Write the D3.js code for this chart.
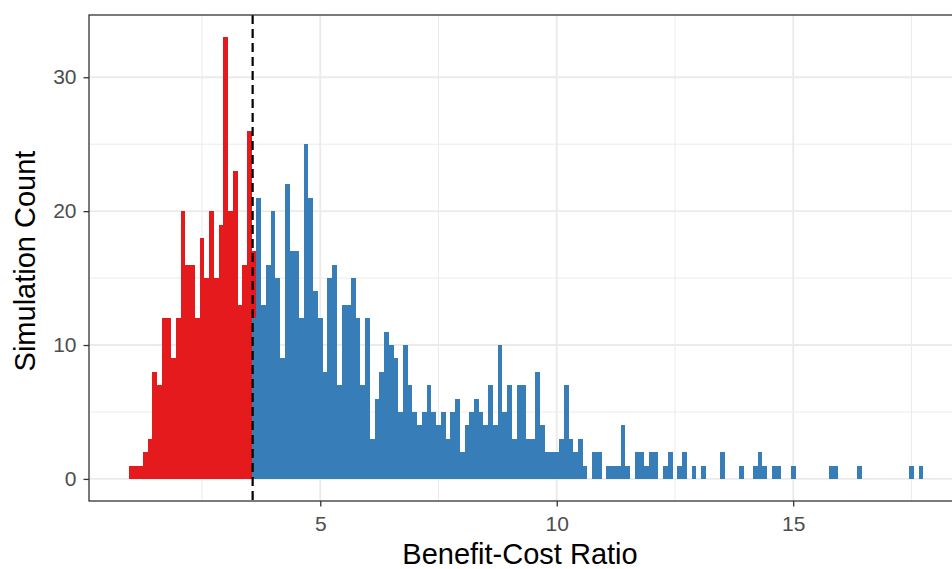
<!DOCTYPE html>
<html lang="en">
<head>
<meta charset="UTF-8">
<title>Benefit-Cost Ratio</title>
<style>
  body { margin: 0; background: #fff; }
  svg { display: block; font-family: "Liberation Sans", Arial, sans-serif; }
</style>
</head>
<body>
<div id="chart"></div>
<script src="https://cdn.jsdelivr.net/npm/d3@7"></script>
<script>
// histogram bins are 0.1 wide; each array starts at the centre of its first bin
const binWidth = 0.1;

const redStart = 1.0;
const redCounts = [
  1, 1, 1, 2, 3, 8, 7, 12, 12, 9,        // 1.0 - 1.9
  12, 20, 16, 16, 12, 18, 15, 20, 15, 19, // 2.0 - 2.9
  33, 20, 23, 13, 16, 26, 5               // 3.0 - 3.6
];

const blueStart = 3.6;
const blueCounts = [
  12, 21, 13, 16,                         // 3.6 - 3.9
  20, 15, 9, 22, 17, 17, 12, 25, 21, 14,  // 4.0 - 4.9
  12, 8, 15, 16, 7, 13, 13, 15, 12, 7,    // 5.0 - 5.9
  12, 3, 6, 8, 11, 10, 9, 5, 10, 7,       // 6.0 - 6.9
  5, 4, 5, 7, 5, 4, 5, 3, 5, 6,           // 7.0 - 7.9
  2, 4, 5, 6, 5, 4, 7, 4, 10, 5,          // 8.0 - 8.9
  7, 3, 7, 7, 3, 3, 8, 4, 2, 2,           // 9.0 - 9.9
  2, 3, 7, 3, 2, 3, 1, 0, 2, 2,           // 10.0 - 10.9
  0, 1, 1, 1, 4, 1, 0, 2, 2, 1,           // 11.0 - 11.9
  2, 2, 0, 1, 2, 0, 1, 2, 0, 1,           // 12.0 - 12.9
  0, 1, 0, 0, 0, 2, 0, 0, 0, 1,           // 13.0 - 13.9
  0, 0, 1, 2, 1, 0, 1, 1, 0, 0,           // 14.0 - 14.9
  1, 0, 0, 0, 0, 0, 0, 0, 1, 1,           // 15.0 - 15.9
  0, 0, 0, 0, 1, 0, 0, 0, 0, 0,           // 16.0 - 16.9
  0, 0, 0, 0, 0, 1, 0, 1                  // 17.0 - 17.7
];

const threshold = 3.57;
const xTicks = [5, 10, 15];
const xMinor = [2.5, 7.5, 12.5, 17.5];
const yTicks = [0, 10, 20, 30];
const yMinor = [5, 15, 25];

const width = 952, height = 569;
const panel = { left: 89, top: 15, right: 963, bottom: 501 };

const x = d3.scaleLinear().domain([0.11, 18.59]).range([panel.left, panel.right]);
const y = d3.scaleLinear().domain([-1.65, 34.65]).range([panel.bottom, panel.top]);

const svg = d3.select("#chart").append("svg")
  .attr("width", width)
  .attr("height", height);

// grid
const grid = svg.append("g");
grid.selectAll(".xminor").data(xMinor).enter().append("line")
  .attr("x1", d => x(d)).attr("x2", d => x(d))
  .attr("y1", panel.top).attr("y2", panel.bottom)
  .attr("stroke", "#ebebeb").attr("stroke-width", 1);
grid.selectAll(".yminor").data(yMinor).enter().append("line")
  .attr("x1", panel.left).attr("x2", panel.right)
  .attr("y1", d => y(d)).attr("y2", d => y(d))
  .attr("stroke", "#ebebeb").attr("stroke-width", 1);
grid.selectAll(".xmajor").data(xTicks).enter().append("line")
  .attr("x1", d => x(d)).attr("x2", d => x(d))
  .attr("y1", panel.top).attr("y2", panel.bottom)
  .attr("stroke", "#ebebeb").attr("stroke-width", 1.9);
grid.selectAll(".ymajor").data(yTicks).enter().append("line")
  .attr("x1", panel.left).attr("x2", panel.right)
  .attr("y1", d => y(d)).attr("y2", d => y(d))
  .attr("stroke", "#ebebeb").attr("stroke-width", 1.9);

// bins: blue sits at the bottom of the shared bin, red is stacked on top
const key = v => Math.round(v * 10);
const blueBins = blueCounts.map((c, i) => ({ x: blueStart + i * binWidth, y0: 0, y1: c }));
const blueByKey = new Map(blueBins.map(b => [key(b.x), b]));
const redBins = redCounts.map((c, i) => {
  const xc = redStart + i * binWidth;
  const under = blueByKey.get(key(xc));
  const base = under ? under.y1 : 0;
  return { x: xc, y0: base, y1: base + c };
});

function drawBins(bins, colour) {
  svg.append("g").selectAll("rect")
    .data(bins.filter(b => b.y1 > b.y0))
    .enter().append("rect")
    .attr("x", d => x(d.x - binWidth / 2))
    .attr("width", d => x(d.x + binWidth / 2) - x(d.x - binWidth / 2))
    .attr("y", d => y(d.y1))
    .attr("height", d => y(d.y0) - y(d.y1))
    .attr("fill", colour)
    .attr("shape-rendering", "crispEdges");
}
drawBins(blueBins, "#377eb8");
drawBins(redBins, "#e41a1c");

// threshold line
svg.append("line")
  .attr("x1", x(threshold)).attr("x2", x(threshold))
  .attr("y1", panel.top).attr("y2", panel.bottom)
  .attr("stroke", "#000")
  .attr("stroke-width", 2.2)
  .attr("stroke-dasharray", "9,5");

// panel border
svg.append("rect")
  .attr("x", panel.left).attr("y", panel.top)
  .attr("width", panel.right - panel.left)
  .attr("height", panel.bottom - panel.top)
  .attr("fill", "none")
  .attr("stroke", "#333333")
  .attr("stroke-width", 1.3);

// axes
const xAxis = svg.append("g")
  .attr("transform", `translate(0,${panel.bottom})`)
  .call(d3.axisBottom(x).tickValues(xTicks).tickFormat(d3.format("d")).tickSize(5.5).tickPadding(10));
const yAxis = svg.append("g")
  .attr("transform", `translate(${panel.left},0)`)
  .call(d3.axisLeft(y).tickValues(yTicks).tickFormat(d3.format("d")).tickSize(5.5).tickPadding(7));

[xAxis, yAxis].forEach(a => {
  a.select(".domain").remove();
  a.selectAll(".tick line").attr("stroke", "#333333").attr("stroke-width", 1.3);
  a.selectAll(".tick text")
    .attr("fill", "#4d4d4d")
    .style("font-size", "21px")
    .style("font-family", "'Liberation Sans', Arial, sans-serif");
});

// axis titles
svg.append("text")
  .attr("x", 520)
  .attr("y", 564)
  .attr("text-anchor", "middle")
  .style("font-size", "29px")
  .text("Benefit-Cost Ratio");

svg.append("text")
  .attr("transform", `translate(35,${(panel.top + panel.bottom) / 2 + 3}) rotate(-90)`)
  .attr("text-anchor", "middle")
  .style("font-size", "29px")
  .text("Simulation Count");
</script>
</body>
</html>
